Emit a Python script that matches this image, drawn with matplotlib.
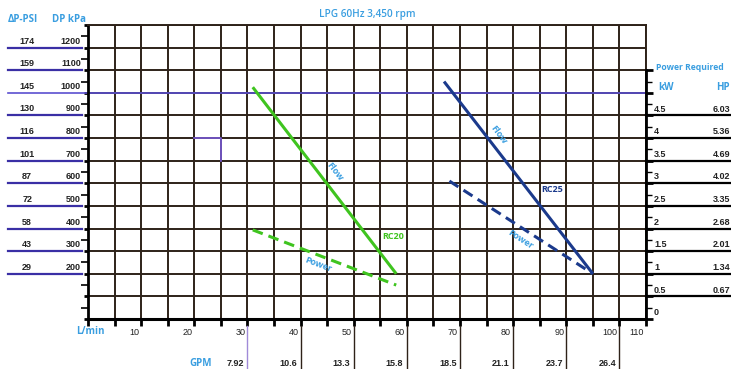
import numpy as np
import matplotlib
matplotlib.use('Agg')
import matplotlib.pyplot as plt
from matplotlib.lines import Line2D

# ---------------- data ----------------
kpa_ticks = [200, 300, 400, 500, 600, 700, 800, 900, 1000, 1100, 1200]
psi_labels = ['29', '43', '58', '72', '87', '101', '116', '130', '145', '159', '174']
lmin_ticks = [10, 20, 30, 40, 50, 60, 70, 80, 90, 100, 105]
lmin_labels = ['10', '20', '30', '40', '50', '60', '70', '80', '90', '100', '110']
gpm_ticks = [30, 40, 50, 60, 70, 80, 90, 100]
gpm_labels = ['7.92', '10.6', '13.3', '15.8', '18.5', '21.1', '23.7', '26.4']
kw_ticks = [0, 0.5, 1, 1.5, 2, 2.5, 3, 3.5, 4, 4.5]
kw_labels = ['0', '0.5', '1', '1.5', '2', '2.5', '3', '3.5', '4', '4.5']
hp_labels = ['', '0.67', '1.34', '2.01', '2.68', '3.35', '4.02', '4.69', '5.36', '6.03']

rc20_flow_x = [31, 58]
rc20_flow_kpa = [1025, 200]
rc20_power_x = [31, 58]
rc20_power_kw = [1.97, 0.75]
rc25_flow_x = [67, 95]
rc25_flow_kpa = [1050, 200]
rc25_power_x = [68, 95]
rc25_power_kw = [3.05, 1.0]

# ---------------- style ----------------
W, H, DPI = 731, 369, 100
GRID = '#2e2219'
GREEN = '#3fc41f'
NAVY = '#1b3a8c'
LBLUE = '#3a9ee0'
PURPLE = '#5b4fd0'
ULINE = '#3a2fa5'
TXT = '#222222'
NUMFONT = dict(family='Liberation Sans', weight='bold', size=6.5, color=TXT)
HDRFONT = dict(family='Open Sans', weight='bold', size=7, color=LBLUE)

fig = plt.figure(figsize=(W / DPI, H / DPI), dpi=DPI)
L, R, T, B = 88, 646, 25, 319
ax = fig.add_axes([L / W, 1 - B / H, (R - L) / W, (B - T) / H])
ax.set_xlim(0, 105)
ax.set_ylim(0, 1300)
ax.set_xticks(np.arange(0, 106, 5))
ax.set_yticks(np.arange(0, 1301, 100))
ax.set_yticks(np.arange(50, 1300, 100), minor=True)
ax.tick_params(labelbottom=False, labelleft=False)
ax.tick_params(axis='x', direction='out', length=5, width=2, color='black')
ax.tick_params(axis='y', which='major', direction='out', length=3, width=2, color='black')
ax.tick_params(axis='y', which='minor', direction='out', length=5, width=1.2, color='black')
ax.grid(True, color=GRID, lw=1.4)
ax.set_axisbelow(True)
for s in ['top', 'right']:
    ax.spines[s].set_color(GRID)
    ax.spines[s].set_linewidth(1.4)
ax.spines['left'].set_linewidth(2)
ax.spines['bottom'].set_linewidth(2.2)

# purple line at 1000 kPa extending left
ytr = ax.get_yaxis_transform()
xtr = ax.get_xaxis_transform()
ax.add_line(Line2D([-0.143, 1.0], [1000, 1000], transform=ytr, color=PURPLE, lw=1.2, clip_on=False, zorder=1.5))
# small purple cell artifact
ax.plot([20, 25, 25], [800, 800, 700], color='#7a5bd8', lw=1.2, zorder=1.6)

# left labels
for v, p in zip(kpa_ticks, psi_labels):
    if v != 1000:
        ax.add_line(Line2D([-0.143, -0.011], [v, v], transform=ytr, color=ULINE, lw=1.6, clip_on=False))
    ax.text(-0.0125, v + 9, str(v), transform=ytr, ha='right', va='bottom', **NUMFONT)
    ax.text(-0.109, v + 9, p, transform=ytr, ha='center', va='bottom', **NUMFONT)
fig.text(8 / W, 1 - 19 / H, 'ΔP-PSI', ha='left', va='center', **HDRFONT)
fig.text(52 / W, 1 - 19 / H, 'DP kPa', ha='left', va='center', **HDRFONT)

# bottom labels
for x, lab in zip(lmin_ticks, lmin_labels):
    ax.annotate(lab, xy=(x, 0), xycoords=xtr, xytext=(-1.5, -10), textcoords='offset points',
                ha='right', va='center', family='Liberation Sans', size=6.5, color=TXT)
for x, lab in zip(gpm_ticks, gpm_labels):
    col = '#a08ad8' if x == 30 else GRID
    ax.add_line(Line2D([x, x], [-0.024, -0.2], transform=xtr, color=col, lw=1.0, clip_on=False))
    ax.annotate(lab, xy=(x, -0.15), xycoords=xtr, xytext=(-2.5, 0), textcoords='offset points',
                ha='right', va='center', **NUMFONT)
fig.text(90 / W, 1 - 332 / H, 'L/min', ha='center', va='center', **HDRFONT)
fig.text(201 / W, 1 - 363 / H, 'GPM', ha='center', va='center', **HDRFONT)

# title
fig.text(367 / W, 1 - 14 / H, 'LPG 60Hz 3,450 rpm', ha='center', va='center',
         family='Open Sans', weight='semibold', size=7.2, color=LBLUE)

# right axis (power)
ax2 = ax.twinx()
ax2.set_ylim(0, 6.5)
for s in ['top', 'left', 'bottom']:
    ax2.spines[s].set_visible(False)
ax2.spines['right'].set_linewidth(2)
ax2.spines['right'].set_bounds(0, 5.5)
ax2.set_yticks(np.arange(0, 5.51, 0.5))
ax2.set_yticks(np.arange(0.25, 5.5, 0.5), minor=True)
ax2.tick_params(labelright=False)
ax2.tick_params(axis='y', which='major', direction='out', length=5, width=2, color='black')
ax2.tick_params(axis='y', which='minor', direction='out', length=4, width=1, color='black')
ytr2 = ax2.get_yaxis_transform()
for v, k, h in zip(kw_ticks, kw_labels, hp_labels):
    if v > 0:
        ax2.add_line(Line2D([1.0, 1.2], [v, v], transform=ytr2, color='black', lw=1.6, clip_on=False))
    ax2.text(1.0143, v + 0.04, k, transform=ytr2, ha='left', va='bottom', **NUMFONT)
    if h:
        ax2.annotate(h, xy=(1.0, v + 0.04), xycoords=('figure fraction', ytr2), xytext=(-0.5, 0),
                     textcoords='offset points', ha='right', va='bottom', **NUMFONT)
fig.text(656 / W, 1 - 67 / H, 'Power Required', ha='left', va='center',
         family='Open Sans', weight='bold', size=6.2, color=LBLUE)
fig.text(658 / W, 1 - 88 / H, 'kW', ha='left', va='center', **HDRFONT)
fig.text(730 / W, 1 - 88 / H, 'HP', ha='right', va='center', **HDRFONT)

# curves
ax.plot(rc20_flow_x, rc20_flow_kpa, color=GREEN, lw=2.2, solid_capstyle='butt', zorder=5)
ax.plot(rc25_flow_x, rc25_flow_kpa, color=NAVY, lw=2.2, solid_capstyle='butt', zorder=5)
ax2.plot(rc20_power_x, rc20_power_kw, color=GREEN, lw=2.2, ls=(0, (3.5, 2)), zorder=5)
ax2.plot(rc25_power_x, rc25_power_kw, color=NAVY, lw=2.2, ls=(0, (3.5, 2)), zorder=5)

# curve annotations
LBL = dict(family='Open Sans', weight='bold', size=6.5, ha='center', va='center', rotation_mode='anchor')
ax.text(46.5, 650, 'Flow', color=LBLUE, rotation=-52, **LBL)
ax.text(77.3, 814, 'Flow', color=LBLUE, rotation=-53, **LBL)
ax.text(43.3, 239, 'Power', color=LBLUE, rotation=-21, **LBL)
ax.text(81.3, 350, 'Power', color=LBLUE, rotation=-33, **LBL)
ax.text(57.4, 363, 'RC20', color=GREEN, **LBL)
ax.text(87.3, 571, 'RC25', color=NAVY, **LBL)

fig.savefig('out.png', dpi=DPI)
